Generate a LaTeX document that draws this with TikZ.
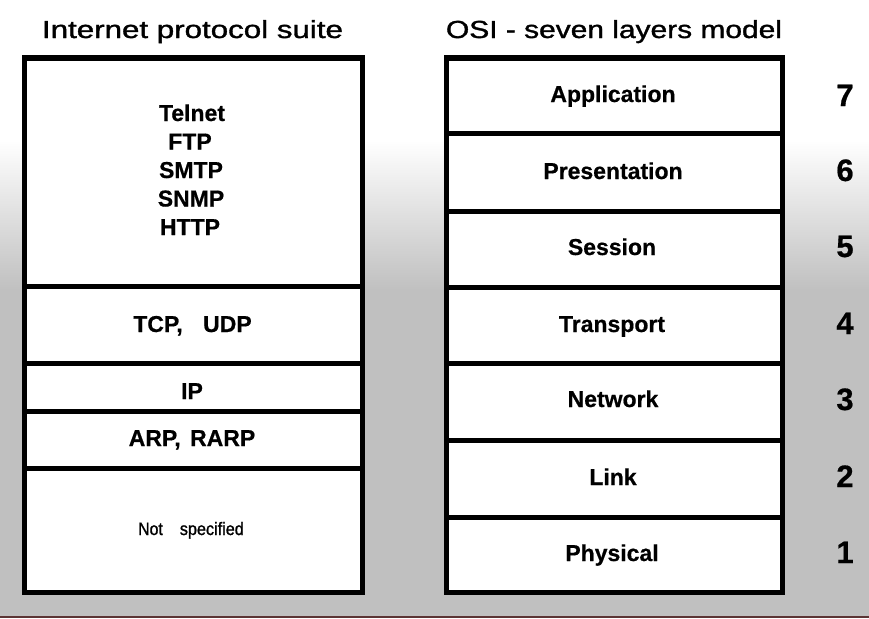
\documentclass[tikz,border=0pt]{standalone}
\usepackage{fontspec}
\setmainfont{Liberation Sans}[BoldFeatures={FakeBold=0.6}]
\newfontfamily\titlefont{Liberation Sans}[FakeBold=1.2]
\usepackage{graphicx}
\definecolor{bggrey}{RGB}{192,192,192}
\definecolor{edgeline}{RGB}{92,52,52}
\tikzset{
  layer/.style={draw=black, line width=5pt, fill=white, rectangle, inner sep=0pt, outer sep=0pt},
  lab/.style={font=\bfseries\fontsize{23}{28}\selectfont, anchor=base, inner sep=0pt},
  num/.style={font=\bfseries\fontsize{31}{36}\selectfont, anchor=base, inner sep=0pt},
  ttl/.style={font=\titlefont\fontsize{24.7}{30}\selectfont, anchor=base, inner sep=0pt},
  small/.style={font=\titlefont\fontsize{18}{22}\selectfont, anchor=base, inner sep=0pt}
}
\begin{document}
\begin{tikzpicture}[x=1pt,y=-1pt]
\useasboundingbox (0,0) rectangle (869,618);
% background
\fill[white] (0,0) rectangle (869,140);
\shade[top color=white, bottom color=bggrey] (0,140) rectangle (869,290);
\fill[bggrey] (0,290) rectangle (869,618);
\fill[edgeline] (0,616) rectangle (869,618);

% titles
\node[ttl] (t1) at (192.5,38) {\resizebox{301pt}{\height}{Internet protocol suite}};
\node[ttl] (t2) at (614,38) {\resizebox{336pt}{\height}{OSI - seven layers model}};

% Internet protocol suite
\node[layer, minimum width=338pt, minimum height=228pt] (ipsApp) at (193,172) {};
\node[layer, minimum width=338pt, minimum height=77pt] (ipsTcp) at (193,324.5) {};
\node[layer, minimum width=338pt, minimum height=48pt] (ipsIp) at (193,387) {};
\node[layer, minimum width=338pt, minimum height=57pt] (ipsArp) at (193,439.5) {};
\node[layer, minimum width=338pt, minimum height=124pt] (ipsNs) at (193,530) {};

\node[lab] (telnet) at (192,121) {Telnet};
\node[lab] (ftp) at (190,149.5) {FTP};
\node[lab] (smtp) at (191,178) {SMTP};
\node[lab] (snmp) at (191,206.5) {SNMP};
\node[lab] (http) at (190,235) {HTTP};
\node[lab] (tcpudp) at (192.5,332) {TCP,\hspace{14pt} UDP};
\node[lab] (ip) at (192,399) {IP};
\node[lab] (arp) at (192,446) {ARP,\hspace{3pt} RARP};
\node[small] (ns) at (191,535) {\scalebox{0.88}[1]{Not}\hspace{17pt}\scalebox{0.9}[1]{specified}};

% OSI model
\node[layer, minimum width=335.5pt, minimum height=75pt] (osi7) at (614.25,95.5) {};
\node[layer, minimum width=335.5pt, minimum height=78pt] (osi6) at (614.25,172) {};
\node[layer, minimum width=335.5pt, minimum height=76pt] (osi5) at (614.25,249) {};
\node[layer, minimum width=335.5pt, minimum height=76pt] (osi4) at (614.25,325) {};
\node[layer, minimum width=335.5pt, minimum height=77pt] (osi3) at (614.25,401.5) {};
\node[layer, minimum width=335.5pt, minimum height=77pt] (osi2) at (614.25,478.5) {};
\node[layer, minimum width=335.5pt, minimum height=75pt] (osi1) at (614.25,554.5) {};

\node[lab] (app) at (613,102) {Application};
\node[lab] (pres) at (613,179) {Presentation};
\node[lab] (sess) at (612,255) {Session};
\node[lab] (trans) at (612,332) {Transport};
\node[lab] (net) at (613,407) {Network};
\node[lab] (link) at (613,485) {Link};
\node[lab] (phys) at (612,561) {Physical};

\node[num] (n7) at (845,106) {7};
\node[num] (n6) at (845,181) {6};
\node[num] (n5) at (845,257) {5};
\node[num] (n4) at (845,334) {4};
\node[num] (n3) at (845,410) {3};
\node[num] (n2) at (845,487) {2};
\node[num] (n1) at (845,563) {1};
\end{tikzpicture}
\end{document}
